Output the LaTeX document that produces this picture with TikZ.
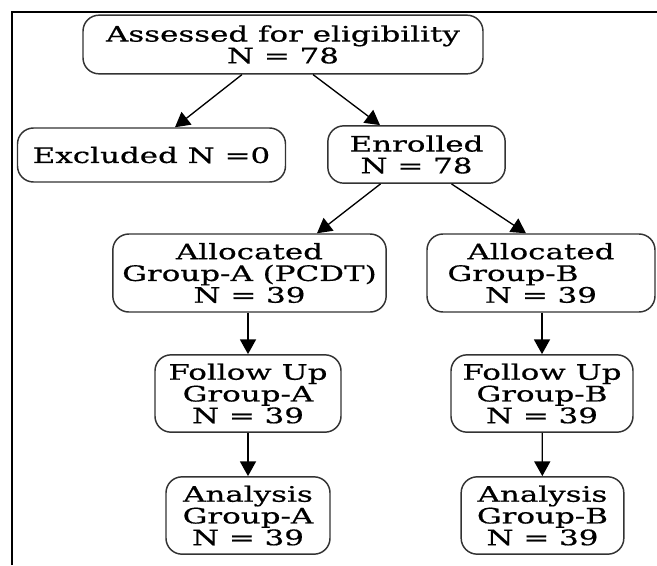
\documentclass[tikz,border=0pt]{standalone}
\usepackage{fontspec}
\setmainfont{DejaVu Serif}[FakeStretch=1.45,FakeBold=0.6]
\usetikzlibrary{arrows.meta,calc}

\tikzset{
  box/.style={draw=black!80, line width=1.1pt, rounded corners=12pt,
    align=center, inner sep=2pt,
    font=\fontsize{16pt}{16.3pt}\selectfont},
  arr/.style={line width=1pt, -{Triangle[length=11pt,width=12pt]}},
}

\begin{document}
\begin{tikzpicture}[x=0.75pt,y=-0.75pt]
  \useasboundingbox (0,0) rectangle (657,565);
  % 边框
  \draw[line width=1.8pt] (12,565) -- (12,12) -- (657,12);
  % 节点
  \node[box,minimum width=300pt,minimum height=44pt] (as) at (283,44.5) {Assessed for eligibility\\N = 78};
  \node[box,minimum width=201pt,minimum height=40.5pt] (ex) at (151.5,155) {Excluded N =0};
  \node[box,minimum width=133pt,minimum height=43pt] (en) at (416.5,154.5) {Enrolled\\N = 78};
  \node[box,minimum width=205pt,minimum height=58.5pt] (alA) at (249.5,273) {Allocated\\Group-A (PCDT)\\N = 39};
  \node[box,minimum width=171pt,minimum height=58.5pt] (alB) at (541,273) {Allocated\\Group-B\rule{42pt}{0pt}\\N = 39};
  \node[box,minimum width=139.5pt,minimum height=58pt] (fuA) at (248,393.5) {Follow Up\\Group-A\\N = 39};
  \node[box,minimum width=136.5pt,minimum height=58pt] (fuB) at (542,393.5) {Follow Up\\Group-B\\N = 39};
  \node[box,minimum width=123pt,minimum height=58pt] (anA) at (248,515.5) {Analysis\\Group-A\\N = 39};
  \node[box,minimum width=122pt,minimum height=58pt] (anB) at (542.5,515.5) {Analysis\\Group-B\\N = 39};
  % 箭头
  \draw[arr] ($(as.south)+(-41,0)$) -- ($(ex.north)+(23.5,0)$);
  \draw[arr] ($(as.south)+(30,0)$) -- ($(en.north)+(-36.5,0)$);
  \draw[arr] ($(en.south)+(-36,0)$) -- ($(alA.north)+(67.5,0)$);
  \draw[arr] ($(en.south)+(35,0)$) -- ($(alB.north)+(-15,0)$);
  \draw[arr] (alA.south -| fuA) -- (fuA.north);
  \draw[arr] (alB.south -| fuB) -- (fuB.north);
  \draw[arr] (fuA) -- (anA);
  \draw[arr] (fuB) -- (anB);
\end{tikzpicture}
\end{document}
